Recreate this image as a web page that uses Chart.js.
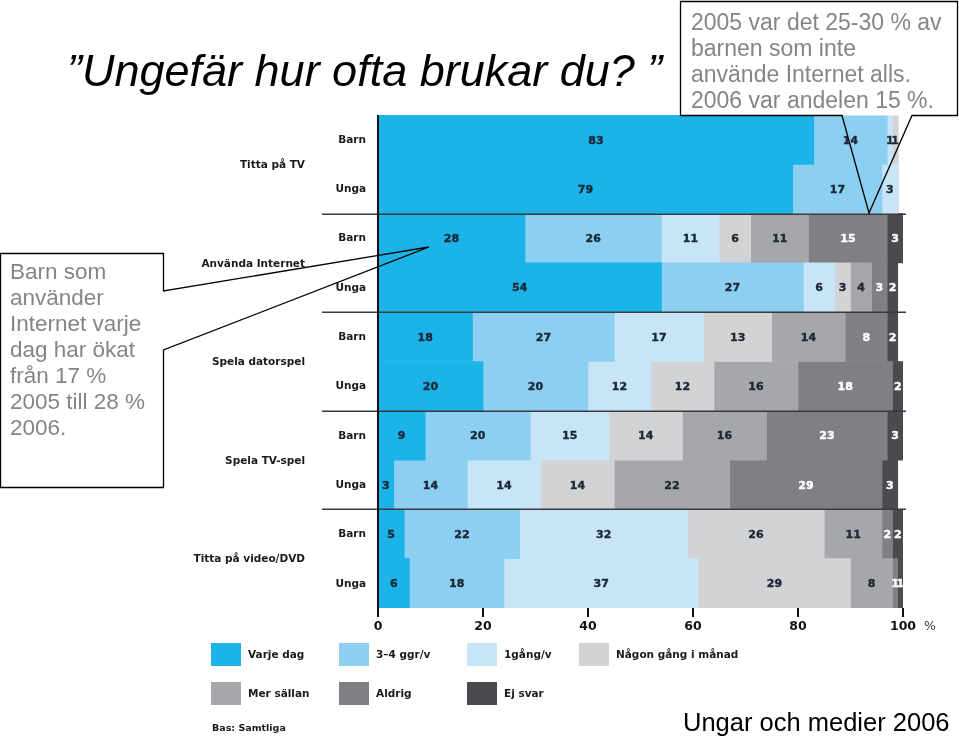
<!DOCTYPE html>
<html><head><meta charset="utf-8">
<script src="https://cdn.jsdelivr.net/npm/chart.js@4"></script>
<style>
html,body{margin:0;padding:0;background:#fff;}
#wrap{position:relative;width:959px;height:738px;overflow:hidden;background:#fff;}
#c{position:absolute;left:0;top:0;}
#ov{position:absolute;left:0;top:0;pointer-events:none;}
</style></head><body>
<div id="wrap">
<canvas id="c" width="959" height="738"></canvas>
<svg id="ov" width="959" height="738" xmlns="http://www.w3.org/2000/svg" font-family="'Liberation Sans', Arial, sans-serif">
  <text x="67" y="86" font-size="45" font-style="italic" fill="#000">”Ungefär hur ofta brukar du? ”</text>
  <rect x="680.5" y="1.5" width="277" height="114" fill="#fff"/>
  <path d="M842,115.5 L680.5,115.5 L680.5,1.5 L957.5,1.5 L957.5,115.5 L912,115.5 L869,213 Z" fill="none" stroke="#000" stroke-width="1.3"/>
  <g font-size="23" fill="#858585">
    <text x="691" y="30">2005 var det 25-30 % av</text>
    <text x="691" y="56">barnen som inte</text>
    <text x="691" y="82">använde Internet alls.</text>
    <text x="691" y="108">2006 var andelen 15 %.</text>
  </g>
  <rect x="0.5" y="253.5" width="163" height="234" fill="#fff"/>
  <path d="M163.5,291 L163.5,253.5 L0.5,253.5 L0.5,487.5 L163.5,487.5 L163.5,350 L429,247 Z" fill="none" stroke="#000" stroke-width="1.3"/>
  <g font-size="22.5" fill="#858585">
    <text x="10" y="279">Barn som</text>
    <text x="10" y="305">använder</text>
    <text x="10" y="331">Internet varje</text>
    <text x="10" y="357">dag har ökat</text>
    <text x="10" y="383">från 17 %</text>
    <text x="10" y="409">2005 till 28 %</text>
    <text x="10" y="435">2006.</text>
  </g>
  <text x="683" y="731" font-size="25.5" fill="#000">Ungar och medier 2006</text>
</svg>
</div>
<script>
// ---- data ----
const groups = ['Titta på TV', 'Använda Internet', 'Spela datorspel', 'Spela TV-spel', 'Titta på video/DVD'];
const rows = ['Barn', 'Unga', 'Barn', 'Unga', 'Barn', 'Unga', 'Barn', 'Unga', 'Barn', 'Unga'];
const seriesNames = ['Varje dag', '3–4 ggr/v', '1gång/v', 'Någon gång i månad', 'Mer sällan', 'Aldrig', 'Ej svar'];
const varjeDag  = [83, 79, 28, 54, 18, 20,  9,  3,  5,  6];
const ggr34     = [14, 17, 26, 27, 27, 20, 20, 14, 22, 18];
const gang1     = [ 1,  3, 11,  6, 17, 12, 15, 14, 32, 37];
const nagonGang = [ 1,  0,  6,  3, 13, 12, 14, 14, 26, 29];
const merSallan = [ 0,  0, 11,  4, 14, 16, 16, 22, 11,  8];
const aldrig    = [ 0,  0, 15,  3,  8, 18, 23, 29,  2,  1];
const ejSvar    = [ 0,  0,  3,  2,  2,  2,  3,  3,  2,  1];
const xTicks = [0, 20, 40, 60, 80, 100];

const seriesValues = [varjeDag, ggr34, gang1, nagonGang, merSallan, aldrig, ejSvar];
const colors = ['#1bb3e8', '#8ccff1', '#c7e5f7', '#d2d3d5', '#a5a7aa', '#7e8083', '#4a4b4e'];
const labelColors = ['#1c2836', '#1c2836', '#1c2836', '#1c2836', '#1c2836', '#ffffff', '#ffffff'];

const LBL = "'DejaVu Sans', 'Liberation Sans', sans-serif";

const decor = {
  id: 'decor',
  afterDatasetsDraw(chart) {
    const ctx = chart.ctx;
    const xs = chart.scales.x, ys = chart.scales.y;
    const ca = chart.chartArea;
    ctx.save();
    // segment numbers
    ctx.textAlign = 'center';
    ctx.textBaseline = 'middle';
    ctx.font = 'bold 11px ' + LBL;
    ctx.lineWidth = 0.4;
    chart.data.datasets.forEach((ds, di) => {
      const meta = chart.getDatasetMeta(di);
      meta.data.forEach((el, i) => {
        const v = ds.data[i];
        if (!v) return;
        const cx = (el.x + el.base) / 2;
        ctx.fillStyle = labelColors[di];
        ctx.strokeStyle = labelColors[di];
        ctx.fillText(String(v), cx, el.y + 1);
        ctx.strokeText(String(v), cx, el.y + 1);
      });
    });
    // group separators
    ctx.strokeStyle = '#3a3a3a';
    ctx.lineWidth = 1.5;
    for (let g = 1; g < groups.length; g++) {
      const y = Math.round((ys.getPixelForValue(2 * g - 1) + ys.getPixelForValue(2 * g)) / 2) + 0.25;
      ctx.beginPath();
      ctx.moveTo(322, y);
      ctx.lineTo(906, y);
      ctx.stroke();
    }
    // vertical axis line
    const x0 = xs.getPixelForValue(0);
    ctx.strokeStyle = '#111';
    ctx.lineWidth = 2;
    ctx.beginPath();
    ctx.moveTo(x0, ca.top);
    ctx.lineTo(x0, ca.bottom + 9);
    ctx.stroke();
    // ticks + labels
    ctx.fillStyle = '#111';
    ctx.font = 'bold 12.5px ' + LBL;
    xTicks.forEach(t => {
      const x = xs.getPixelForValue(t);
      ctx.beginPath();
      ctx.moveTo(x, ca.bottom);
      ctx.lineTo(x, ca.bottom + 9);
      ctx.stroke();
      ctx.fillText(String(t), x, ca.bottom + 19);
    });
    ctx.font = '12.5px ' + LBL;
    ctx.fillStyle = '#333';
    ctx.textAlign = 'left';
    ctx.fillText('%', xs.getPixelForValue(100) + 21, ca.bottom + 19);
    // row labels
    ctx.fillStyle = '#1a1a1a';
    ctx.font = 'bold 10.5px ' + LBL;
    ctx.textAlign = 'right';
    rows.forEach((r, i) => {
      ctx.fillText(r, 366, ys.getPixelForValue(i) + 0.5);
    });
    groups.forEach((g, gi) => {
      const y = (ys.getPixelForValue(2 * gi) + ys.getPixelForValue(2 * gi + 1)) / 2;
      ctx.fillText(g, 305, y + 1);
    });
    // legend
    const pos = [[211, 643], [339, 643], [467, 643], [579, 643], [211, 682], [339, 682], [467, 682]];
    ctx.textAlign = 'left';
    ctx.font = 'bold 10.5px ' + LBL;
    chart.data.datasets.forEach((ds, di) => {
      const [bx, by] = pos[di];
      ctx.fillStyle = ds.backgroundColor;
      ctx.fillRect(bx, by, 30, 23);
      ctx.fillStyle = '#1a1a1a';
      ctx.fillText(ds.label, bx + 37, by + 12);
    });
    ctx.font = 'bold 9.5px ' + LBL;
    ctx.fillText('Bas: Samtliga', 212, 729);
    ctx.restore();
  }
};

new Chart(document.getElementById('c'), {
  type: 'bar',
  data: {
    labels: rows.map((r, i) => r + ' ' + (i + 1)),
    datasets: seriesNames.map((n, i) => ({
      label: n,
      data: seriesValues[i],
      backgroundColor: colors[i],
      borderWidth: 0,
      barPercentage: 1,
      categoryPercentage: 1
    }))
  },
  options: {
    indexAxis: 'y',
    responsive: false,
    animation: false,
    layout: { padding: { left: 378, right: 56, top: 115, bottom: 130 } },
    scales: {
      x: { stacked: true, min: 0, max: 100, display: false },
      y: { stacked: true, display: false }
    },
    plugins: { legend: { display: false }, tooltip: { enabled: false }, title: { display: false } }
  },
  plugins: [decor]
});
</script>
</body></html>
